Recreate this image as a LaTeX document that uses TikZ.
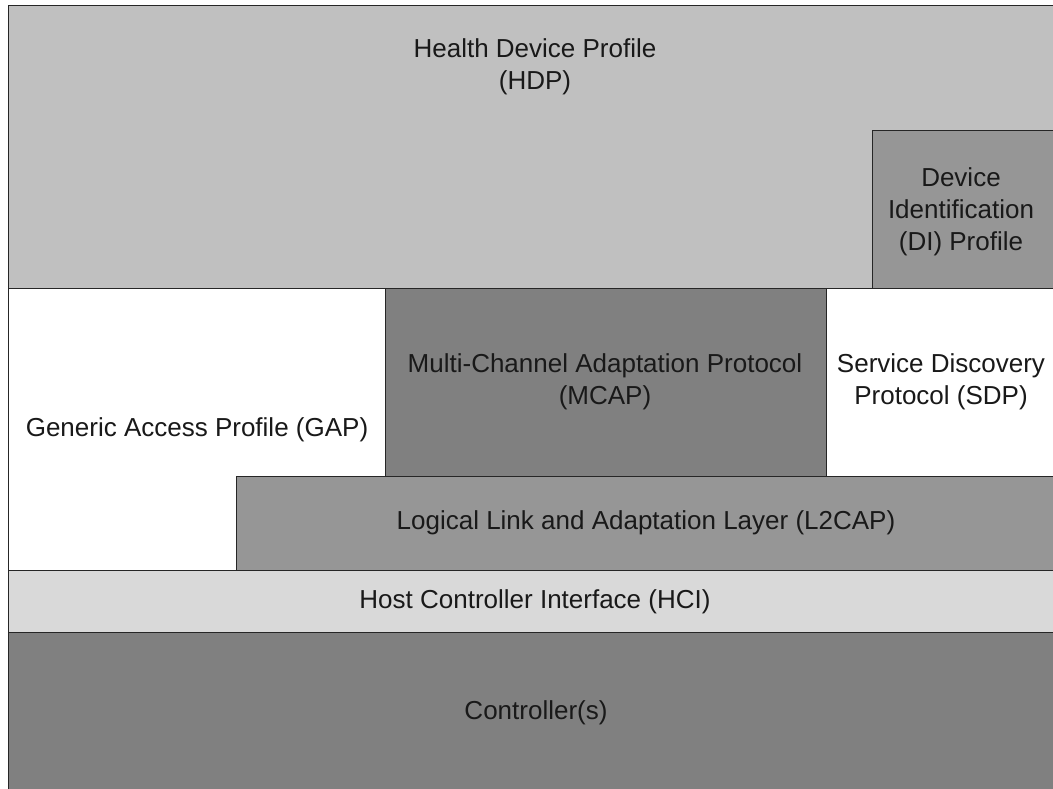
\documentclass[tikz,border=0pt]{standalone}
\usepackage{fontspec}
\setmainfont{Liberation Sans}
\begin{document}
\begin{tikzpicture}[x=1pt,y=-1pt,
  layer/.style={draw=black!85, line width=1.3pt, inner sep=0pt, anchor=north west},
  lbl/.style={font=\fontsize{26}{32}\selectfont, align=center, text=black!90, inner sep=0pt}]
\useasboundingbox (0,0) rectangle (1053,788);
\clip (0,0) rectangle (1053,788);
% Profile layer
\node[layer, fill={rgb,255:red,192;green,192;blue,192}, minimum width=1052pt, minimum height=283pt] (hdp) at (8,5) {};
\node[layer, fill={rgb,255:red,150;green,150;blue,150}, minimum width=186pt, minimum height=158pt] (di) at (872,130) {};
% Protocol layer
\node[layer, fill=white, minimum width=1052pt, minimum height=282pt] (mid) at (8,288) {};
\node[layer, fill={rgb,255:red,128;green,128;blue,128}, minimum width=441pt, minimum height=188pt] (mcap) at (385,288) {};
\node[layer, fill={rgb,255:red,150;green,150;blue,150}, minimum width=824pt, minimum height=94pt] (l2cap) at (236,476) {};
% Host controller interface and controller
\node[layer, fill={rgb,255:red,217;green,217;blue,217}, minimum width=1052pt, minimum height=62pt] (hci) at (8,570) {};
\node[layer, fill={rgb,255:red,128;green,128;blue,128}, minimum width=1052pt, minimum height=170pt] (ctrl) at (8,632) {};
% Labels
\node[lbl] (thdp) at (535,67) {Health Device Profile\\(HDP)};
\node[lbl] (tdi) at (961,212) {Device\\Identification\\(DI) Profile};
\node[lbl] (tmcap) at (605,382) {Multi-Channel Adaptation Protocol\\(MCAP)};
\node[lbl] (tsdp) at (941,382) {Service Discovery\\Protocol (SDP)};
\node[lbl] (tgap) at (197,430) {Generic Access Profile (GAP)};
\node[lbl] (tl2) at (646,523) {Logical Link and Adaptation Layer (L2CAP)};
\node[lbl] (thci) at (535,602) {Host Controller Interface (HCI)};
\node[lbl] (tctrl) at (536,713) {Controller(s)};
\end{tikzpicture}
\end{document}
